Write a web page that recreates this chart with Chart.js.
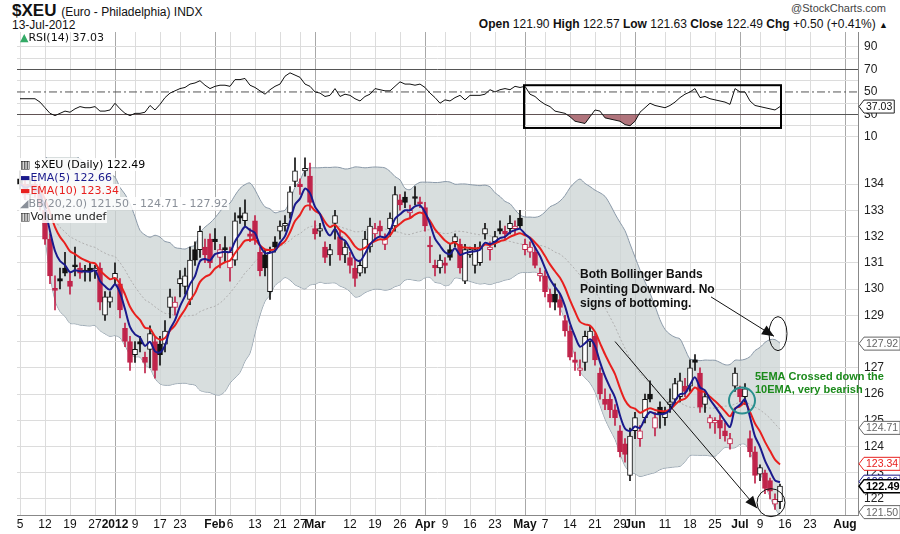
<!DOCTYPE html>
<html><head><meta charset="utf-8">
<script src="https://cdn.jsdelivr.net/npm/chart.js@4.4.1/dist/chart.umd.min.js"></script>
<style>
body{margin:0;background:#fff;width:900px;height:534px;position:relative;overflow:hidden;font-family:"Liberation Sans",Arial,sans-serif}
canvas{position:absolute;left:0}
.t{position:absolute;white-space:nowrap;color:#111}
.lg{position:absolute;left:19px;font:11px "DejaVu Sans",sans-serif;white-space:nowrap}
.lg span{background:rgba(255,255,255,0.85);padding:0 1px}
</style></head><body>
<div class="t" style="left:12px;top:1px;font:bold 17px 'Liberation Sans Narrow','Liberation Sans',Arial;">$XEU <span style="font:12px 'Liberation Sans Narrow','Liberation Sans';font-weight:normal">(Euro - Philadelphia) INDX</span></div>
<div class="t" style="left:12px;top:18px;font:12px 'Liberation Sans Narrow','Liberation Sans'">13-Jul-2012</div>
<div class="t" style="right:14px;top:2px;font:11px 'Liberation Sans Narrow','Liberation Sans';color:#444">@StockCharts.com</div>
<div class="t" style="right:12px;top:17px;font:12px 'Liberation Sans Narrow','Liberation Sans'"><b>Open</b> 121.90 <b>High</b> 122.57 <b>Low</b> 121.63 <b>Close</b> 122.49 <b>Chg</b> +0.50 (+0.41%) <span style="font-size:9px">▲</span></div>
<canvas id="rsi" width="900" height="157" style="top:0"></canvas>
<canvas id="px" width="900" height="377" style="top:157px"></canvas>
<div class="t" style="left:20px;top:31px;font:11px 'DejaVu Sans',sans-serif"><span style="color:#3a6">▲</span>RSI(14) 37.03</div>
<div class="lg" style="top:158px"><span>▥ $XEU (Daily) 122.49</span></div>
<div class="lg" style="top:171px;color:#1a1a8c"><span>▬EMA(5) 122.66</span></div>
<div class="lg" style="top:184px;color:#e8201e"><span>▬EMA(10) 123.34</span></div>
<div class="lg" style="top:197px;color:#8a9099"><span>◢BB(20,2.0) 121.50 - 124.71 - 127.92</span></div>
<div class="lg" style="top:210px;color:#222"><span>▥Volume undef</span></div>
<script>
// ---- data (trading-day index 0 = 5-Dec-2011) ----
const opens=[134.2,134.0,133.6,134.0,133.7,133.0,131.9,130.0,130.4,130.8,130.3,130.9,130.8,130.7,130.8,130.7,130.8,129.0,129.5,130.4,130.2,128.5,128.0,127.5,128.0,127.4,127.7,128.0,127.9,127.9,129.3,129.3,130.2,130.1,129.6,131.5,131.5,131.6,131.9,131.9,131.2,131.5,130.8,131.1,132.8,132.6,132.1,132.6,131.4,131.3,129.9,131.8,132.2,132.4,132.9,134.1,134.0,134.5,134.3,132.3,132.2,131.6,131.3,132.5,132.0,131.3,131.2,130.8,130.6,130.8,131.6,132.1,132.4,131.7,132.3,132.4,133.4,133.5,132.9,133.5,133.3,133.1,131.6,130.9,130.8,131.0,131.5,131.8,131.7,130.3,131.3,130.9,131.0,132.1,131.5,131.8,132.3,132.2,132.3,132.3,132.7,131.5,131.4,131.4,130.5,130.5,129.8,129.8,129.6,128.8,128.4,127.3,126.9,127.2,128.0,128.2,126.8,125.8,125.8,125.4,124.6,124.1,122.9,124.6,124.3,125.1,126.0,124.7,125.5,125.1,125.6,125.8,125.9,126.3,126.3,127.3,126.8,125.6,124.9,124.9,125.0,124.6,124.1,126.3,126.2,125.9,124.3,123.8,122.95,123.0,122.7,121.8,121.90];
const highs=[134.5,134.3,134.2,134.3,134.0,133.3,132.1,130.5,130.8,131.4,130.6,131.6,131.0,130.9,131.0,130.9,131.0,129.9,129.9,131.0,130.4,128.7,128.2,128.0,128.2,127.6,128.6,128.2,128.2,128.8,130.0,129.7,130.7,130.8,131.6,131.8,132.4,131.9,132.1,132.3,131.7,132.0,131.6,132.9,133.1,133.4,132.3,132.8,131.6,131.5,131.6,132.0,132.6,132.8,133.9,135.0,134.2,135.0,134.8,132.6,132.5,131.8,131.7,133.0,132.2,131.8,131.4,131.1,131.1,132.2,132.7,132.5,132.6,132.1,132.9,133.9,133.6,133.7,133.2,133.9,133.5,133.3,132.0,131.1,131.3,131.2,131.7,132.1,131.9,131.7,131.6,131.7,131.8,132.5,131.8,132.2,132.6,132.4,132.8,132.6,133.0,131.9,131.8,131.6,130.8,130.7,130.0,130.2,129.8,129.0,128.6,127.6,127.3,128.4,128.6,128.3,127.0,126.2,126.0,125.6,124.8,124.3,124.7,125.3,124.8,126.0,126.5,125.3,125.7,125.5,126.2,126.6,126.8,126.6,127.3,127.5,127.0,126.1,125.2,125.1,125.2,124.9,124.5,127.0,126.3,126.4,124.6,124.0,123.3,123.1,122.8,122.2,122.57];
const lows=[133.8,133.4,133.3,133.5,133.0,131.7,130.2,129.2,130.0,130.5,129.8,130.5,130.4,130.3,130.3,130.4,129.2,128.8,129.3,130.2,128.9,127.8,126.9,127.2,127.6,126.8,127.0,126.6,127.1,127.6,128.9,129.0,129.7,129.8,129.4,130.9,131.2,131.0,130.8,131.5,130.8,131.0,130.3,130.9,132.5,132.4,131.8,131.7,130.5,130.5,129.6,131.4,131.9,132.2,132.7,133.9,133.6,134.3,133.0,131.9,132.0,131.0,130.9,131.9,131.1,131.0,130.6,130.1,130.5,130.6,131.4,131.9,132.0,131.5,132.0,132.2,133.0,133.1,132.7,133.2,133.1,132.2,131.0,130.5,130.6,130.6,131.1,131.6,130.6,130.2,131.2,130.6,130.9,131.9,131.1,131.6,132.1,131.9,132.1,132.1,132.3,131.3,131.2,130.8,130.3,129.7,129.3,129.2,129.0,128.2,127.3,126.9,126.7,126.9,127.8,127.1,125.8,125.4,125.1,124.8,123.6,123.4,122.7,124.3,124.0,124.9,125.7,124.4,124.7,124.8,125.3,125.6,125.7,125.9,126.1,126.9,125.3,125.3,124.7,124.5,124.3,124.2,123.9,126.1,125.7,125.6,123.6,122.6,122.7,122.2,122.0,121.6,121.63];
const closes=[134.0,133.6,134.0,133.7,133.2,131.9,130.5,129.95,130.3,130.6,130.1,130.85,130.6,130.65,130.65,130.8,129.5,129.7,129.7,130.6,129.2,128.0,127.2,127.7,127.9,127.2,128.3,126.9,127.5,128.4,129.7,129.5,130.4,130.5,131.1,131.1,132.2,131.3,131.0,131.8,131.5,131.5,131.4,132.6,132.7,132.9,132.0,131.9,130.7,130.8,131.4,131.6,132.4,132.5,133.7,134.5,133.9,134.6,133.3,132.1,132.3,131.2,131.5,132.8,131.3,131.6,130.9,130.4,130.9,131.9,132.4,132.3,132.2,131.9,132.7,133.6,133.2,133.3,133.0,133.45,133.25,132.4,131.6,130.8,131.1,130.9,131.2,132.0,130.8,131.5,131.5,131.5,131.6,132.3,131.6,132.0,132.2,132.1,132.5,132.4,132.4,131.7,131.6,130.9,130.6,129.9,129.5,129.5,129.3,128.4,127.4,127.2,127.0,128.2,128.4,127.3,126.0,125.6,125.4,125.1,123.8,123.7,124.4,125.1,124.6,125.8,125.8,125.1,125.2,125.3,125.7,126.4,126.5,126.1,127.0,127.2,125.5,125.9,125.1,125.0,124.7,124.4,124.3,126.8,125.9,126.2,123.8,122.9,123.2,122.4,122.3,121.99,122.49];
const rsi=[44,44,44,44,41,36,31,29,31,33,32,35,37,36,36,37,33,33,34,40,35,31,29,31,31,32,38,34,39,45,49,51,53,54,57,58,60,56,53,55,56,56,55,61,61,62,56,54,51,48,52,55,57,64,67,65,63,57,55,50,49,46,47,53,46,48,47,44,42,46,48,53,52,51,51,55,59,57,57,56,57,54,49,45,40,43,42,45,47,43,47,47,47,48,52,50,52,53,52,55,54,55,48,46,42,39,37,33,32,31,28,24,23,22,28,34,33,27,26,25,24,21,20,24,32,36,40,38,37,36,38,41,45,48,50,53,45,46,44,43,42,41,39,53,50,50,42,38,37,36,35,34,37.03];
const tickIdx=[0,5,10,15,19,23,28,32,39,42,47,52,56,59,66,71,76,81,85,90,95,101,105,110,115,120,123,129,134,139,144,148,153,158,165];
const tickText=['5','12','19','27','2012','9','17','23','Feb','6','13','21','27','Mar','12','19','26','Apr','9','16','23','May','7','14','21','29','Jun','11','18','25','Jul','9','16','23','Aug'];
const majorTicks=[19,39,59,81,101,123,144,165];
const priceGrid=[122,123,124,125,126,127,128,129,130,131,132,133,134];
const priceTicks=[122,123,124,125,126,127,129,130,131,132,133,134];
const rsiGrid=[10,20,30,40,50,60,70,80,90];
const rsiTicks=[10,30,50,70,90];
const tags=[[127.92,'127.92','#666','#666',false],[124.71,'124.71','#666','#666',false],[123.34,'123.34','#e8201e','#e8201e',false],[122.66,'122.66','#1a1a8c','#1a1a8c',false],[122.49,'122.49','#000','#000',true],[121.50,'121.50','#666','#666',false]];

// ---- derived indicators ----
function ema(arr,n){const k=2/(n+1);const o=[];arr.forEach((v,i)=>o.push(i?o[i-1]+k*(v-o[i-1]):v));return o;}
const e5=ema(closes,5), e10=ema(closes,10);
const bbU=[],bbM=[],bbL=[];
closes.forEach((v,i)=>{const w=closes.slice(Math.max(0,i-19),i+1);const m=w.reduce((a,b)=>a+b,0)/w.length;
 const sd=Math.sqrt(w.reduce((a,b)=>a+(b-m)*(b-m),0)/w.length);bbU.push(m+2*sd);bbM.push(m);bbL.push(m-2*sd);});
const RED='#c0234a';
const candleCol=closes.map((c,i)=>i>0&&c<closes[i-1]?RED:'#111');
const xy=a=>a.map((v,i)=>({x:i,y:v}));

function xScale(h){return{type:'linear',min:-0.6,max:167.6,offset:false,
 afterBuildTicks:s=>{s.ticks=tickIdx.map(v=>({value:v}));},
 afterFit:s=>{s.height=h;},
 grid:{offset:false,color:c=>majorTicks.includes(c.tick&&c.tick.value)?'#a8a8a8':'#dcdcdc',drawTicks:false},
 border:{display:true,color:'#888'},ticks:{display:false}};}
function yScale(min,max,grid,colorFn){return{position:'right',min,max,afterFit:s=>{s.width=42;},
 afterBuildTicks:s=>{s.ticks=grid.map(v=>({value:v}));},
 grid:{drawTicks:false,color:colorFn},border:{color:'#888'},ticks:{display:false}};}

function labelsPlugin(yTicks,xLabels){return{id:'lbl',afterDraw(ch){const ctx=ch.ctx,a=ch.chartArea;ctx.save();
 ctx.font='12px Liberation Sans';ctx.fillStyle='#222';ctx.textBaseline='middle';ctx.textAlign='left';
 yTicks.forEach(v=>ctx.fillText(String(v),a.right+6,ch.scales.y.getPixelForValue(v)));
 if(xLabels){ctx.textAlign='center';ctx.textBaseline='top';ctx.fillStyle='#111';
  tickIdx.forEach((v,k)=>{ctx.font=(majorTicks.includes(v)?'bold ':'')+'12px Liberation Sans';ctx.fillText(tickText[k],ch.scales.x.getPixelForValue(v),a.bottom+4);});}
 ctx.restore();}};}

function tagAt(ctx,x0,py,text,col,border,bold){ctx.font=(bold?'bold 11px':'10.5px')+' Liberation Sans';
 const w=ctx.measureText(text).width+4;ctx.fillStyle='#fff';ctx.strokeStyle=border;ctx.lineWidth=bold?1.5:1;
 ctx.beginPath();ctx.moveTo(x0,py);ctx.lineTo(x0+5,py-6.5);ctx.lineTo(x0+5+w,py-6.5);ctx.lineTo(x0+5+w,py+6.5);ctx.lineTo(x0+5,py+6.5);ctx.closePath();ctx.fill();ctx.stroke();
 ctx.fillStyle=col;ctx.textBaseline='middle';ctx.textAlign='left';ctx.fillText(text,x0+7,py+0.5);}
const tagPlugin={id:'tags',afterDraw(ch){const ctx=ch.ctx;ctx.save();
 tags.forEach(t=>tagAt(ctx,ch.chartArea.right+1,ch.scales.y.getPixelForValue(t[0]),t[1],t[2],t[3],t[4]));ctx.restore();}};

const annPlugin={id:'ann',afterDatasetsDraw(ch){const ctx=ch.ctx,X=v=>ch.scales.x.getPixelForValue(v),Y=v=>ch.scales.y.getPixelForValue(v);
 ctx.save();
 ctx.font='bold 12px Liberation Sans';ctx.fillStyle='#111';ctx.textBaseline='middle';
 [['Both Bollinger Bands',130.55],['Pointing Downward. No',129.98],['signs of bottoming.',129.45]].forEach(t=>ctx.fillText(t[0],X(112),Y(t[1])));
 ctx.fillStyle='#1b8a1b';ctx.font='bold 11px Liberation Sans';
 [['5EMA Crossed down the',126.65],['10EMA, very bearish',126.15]].forEach(t=>ctx.fillText(t[0],X(147),Y(t[1])));
 function arrow(a,b,c,d){const x1=X(a),y1=Y(b),x2=X(c),y2=Y(d);ctx.strokeStyle='#111';ctx.fillStyle='#111';ctx.lineWidth=1;
  ctx.beginPath();ctx.moveTo(x1,y1);ctx.lineTo(x2,y2);ctx.stroke();const an=Math.atan2(y2-y1,x2-x1);
  ctx.beginPath();ctx.moveTo(x2,y2);ctx.lineTo(x2-13*Math.cos(an-0.4),y2-13*Math.sin(an-0.4));ctx.lineTo(x2-13*Math.cos(an+0.4),y2-13*Math.sin(an+0.4));ctx.closePath();ctx.fill();}
 arrow(138.2,129.7,150.8,128.2);arrow(119,128.0,147.4,121.65);
 ctx.lineWidth=1;ctx.strokeStyle='#111';
 ctx.beginPath();ctx.ellipse(X(151.6),Y(128.3),9,17,0,0,7);ctx.stroke();
 ctx.beginPath();ctx.ellipse(X(150.2),Y(121.86),14,14,0,0,7);ctx.stroke();
 ctx.strokeStyle='#2a8f8f';ctx.lineWidth=2;ctx.beginPath();ctx.ellipse(X(144.4),Y(125.75),13,13,0,0,7);ctx.stroke();
 ctx.restore();}};

new Chart(document.getElementById('px'),{
 data:{datasets:[
  {type:'line',data:xy(bbU),borderColor:'#8a99a8',borderWidth:1,pointRadius:0,fill:'+1',backgroundColor:'rgba(205,213,213,0.78)',order:6,tension:0.3},
  {type:'line',data:xy(bbL),borderColor:'#8a99a8',borderWidth:1,pointRadius:0,fill:false,order:6,tension:0.3},
  {type:'line',data:xy(bbM),borderColor:'#b0b0b0',borderWidth:1,borderDash:[2,2],pointRadius:0,fill:false,order:5},
  {type:'bar',data:closes.map((c,i)=>({x:i,y:[lows[i],highs[i]]})),backgroundColor:candleCol,barThickness:1,grouped:false,order:4},
  {type:'bar',data:closes.map((c,i)=>({x:i,y:[Math.min(opens[i],c),Math.max(opens[i],c)]})),
   backgroundColor:closes.map((c,i)=>c>opens[i]?'#fff':candleCol[i]),borderColor:candleCol,borderWidth:1,borderSkipped:false,barThickness:5,minBarLength:2,grouped:false,order:3},
  {type:'line',data:xy(e10),borderColor:'#e8201e',borderWidth:2,pointRadius:0,order:2,tension:0.3},
  {type:'line',data:xy(e5),borderColor:'#1a1a8c',borderWidth:2,pointRadius:0,order:1,tension:0.3}
 ]},
 options:{responsive:false,animation:false,events:[],layout:{padding:{left:17,top:0,right:0,bottom:0}},
  plugins:{legend:{display:false},tooltip:{enabled:false}},
  scales:{x:xScale(19),y:yScale(121.39,135.03,priceGrid,()=>'#dcdcdc')}},
 plugins:[annPlugin,labelsPlugin(priceTicks,true),tagPlugin]});

const boxPlugin={id:'box',afterDatasetsDraw(ch){const ctx=ch.ctx,X=v=>ch.scales.x.getPixelForValue(v),Y=v=>ch.scales.y.getPixelForValue(v);
 ctx.save();ctx.strokeStyle='#000';ctx.lineWidth=2;ctx.strokeRect(X(100.8),Y(56),X(152.2)-X(100.8),Y(18)-Y(56));ctx.restore();}};
const rsiTag={id:'rtag',afterDraw(ch){const ctx=ch.ctx;ctx.save();
 tagAt(ctx,ch.chartArea.right+1,ch.scales.y.getPixelForValue(37.03),'37.03','#111','#222',false);ctx.restore();}};

new Chart(document.getElementById('rsi'),{
 data:{datasets:[{type:'line',data:xy(rsi),borderColor:'#111',borderWidth:1,pointRadius:0,
   fill:{target:{value:30},below:'rgba(150,70,80,0.75)',above:'rgba(0,0,0,0)'}}]},
 options:{responsive:false,animation:false,events:[],layout:{padding:{left:17,top:32,right:0,bottom:0}},
  plugins:{legend:{display:false},tooltip:{enabled:false}},
  scales:{x:xScale(0),
   y:yScale(-7.8,103.3,rsiGrid,c=>{const v=c.tick&&c.tick.value;return v===30||v===70?'#555':v===50?'rgba(0,0,0,0)':'#dcdcdc';})}},
 plugins:[boxPlugin,labelsPlugin(rsiTicks,false),rsiTag,{id:'dash50',beforeDatasetsDraw(ch){const ctx=ch.ctx,y=ch.scales.y.getPixelForValue(50);ctx.save();
  ctx.strokeStyle='#555';ctx.lineWidth=1;ctx.setLineDash([8,3,2,3]);ctx.beginPath();ctx.moveTo(ch.chartArea.left,y);ctx.lineTo(ch.chartArea.right,y);ctx.stroke();ctx.restore();}}]});
</script></body></html>
